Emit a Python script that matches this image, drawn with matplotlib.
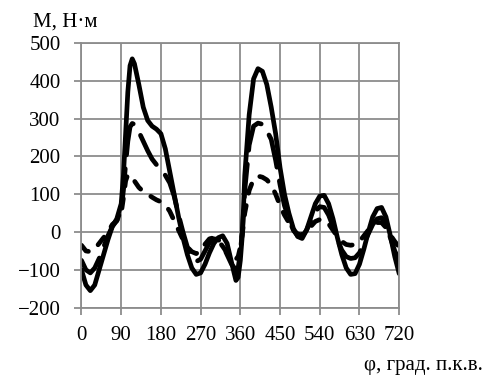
import matplotlib
matplotlib.use("Agg")
import matplotlib.pyplot as plt

# crank angle, degrees
angle = [0, 10, 20, 30, 40, 50, 60, 70, 80, 90, 95, 100, 105, 110, 115, 120, 130, 140, 150,
         160, 170, 180, 190, 200, 210, 220, 230, 240, 250, 260, 270, 280, 290, 300, 310,
         320, 330, 340, 350, 355, 360, 365, 370, 380, 390, 400, 410, 420, 430, 440, 450,
         460, 470, 480, 490, 500, 510, 520, 530, 540, 550, 560, 570, 580, 590, 600, 610,
         620, 630, 640, 650, 660, 670, 680, 690, 700, 710, 720]

# torque, N*m
m_solid = [-100, -140, -155, -140, -100, -60, -20, 15, 35, 75, 150, 260, 370, 440, 458, 445,
           390, 330, 295, 280, 272, 260, 220, 160, 100, 40, -15, -60, -95, -112, -108, -85,
           -55, -30, -15, -10, -30, -80, -128, -120, -75, 0, 150, 310, 405, 432, 425, 390,
           330, 260, 170, 100, 50, 10, -12, -17, 5, 40, 75, 95, 97, 75, 35, -15, -60, -95,
           -112, -110, -85, -45, 0, 40, 62, 65, 40, -10, -65, -110]

m_long = [-75, -100, -108, -95, -70, -40, -10, 15, 30, 60, 110, 180, 240, 278, 287, 285,
          265, 240, 215, 193, 178, 165, 150, 130, 95, 45, 0, -40, -68, -78, -72, -50, -28,
          -18, -20, -35, -60, -85, -100, -95, -55, 10, 110, 230, 280, 288, 285, 268, 245,
          190, 125, 70, 35, 5, -10, -12, 5, 30, 55, 67, 65, 45, 15, -20, -48, -65, -70, -68,
          -55, -30, -5, 20, 35, 38, 20, -15, -50, -75]

m_short = [-35, -50, -52, -45, -30, -15, 0, 20, 30, 50, 90, 135, 152, 150, 145, 135, 118,
           107, 100, 92, 85, 80, 72, 55, 30, 5, -20, -40, -52, -57, -50, -32, -18, -15, -22,
           -38, -55, -68, -72, -65, -40, 0, 50, 110, 140, 148, 145, 138, 125, 100, 70, 45,
           25, 5, -5, -8, 2, 15, 28, 33, 32, 22, 5, -12, -25, -33, -35, -33, -25, -10, 5, 18,
           25, 25, 12, -8, -25, -40]

x_ticks = [0, 90, 180, 270, 360, 450, 540, 630, 720]
y_ticks = [-200, -100, 0, 100, 200, 300, 400, 500]

plt.rcParams['font.family'] = ['Liberation Serif', 'DejaVu Serif']
plt.rcParams['lines.scale_dashes'] = False

fig = plt.figure(figsize=(4.88, 3.87), dpi=100)
ax = fig.add_axes([0.167, 0.205, 0.651, 0.684])

grid_c = '#8c8c8c'
ax.plot(angle, m_solid, color='black', lw=3.4, solid_capstyle='round', solid_joinstyle='round')
ax.plot(angle, m_long, color='black', lw=3.4, dashes=(24, 10), dash_capstyle='round',
        dash_joinstyle='round')
ax.plot(angle, m_short, color='black', lw=3.4, dashes=(7, 9), dash_capstyle='round',
        dash_joinstyle='round')

ax.set_xlim(0, 720)
ax.set_ylim(-200, 500)
ax.set_xticks(x_ticks)
ax.set_yticks(y_ticks)
ax.grid(True, color=grid_c, lw=1.3)
ax.set_axisbelow(True)
for s in ax.spines.values():
    s.set_color(grid_c)
    s.set_linewidth(1.3)
ax.tick_params(axis='both', colors=grid_c, length=5, width=1.3, labelsize=15,
               labelcolor='black')
ax.tick_params(axis='y', pad=10)
ax.tick_params(axis='x', pad=8)

fig.text(33 / 488, 1 - 27 / 387, 'М, Н·м', fontsize=15, va='baseline', ha='left')
fig.text(483 / 488, 1 - 370 / 387, 'φ, град. п.к.в.', fontsize=15, va='baseline', ha='right')

fig.savefig('out.png', dpi=100)
